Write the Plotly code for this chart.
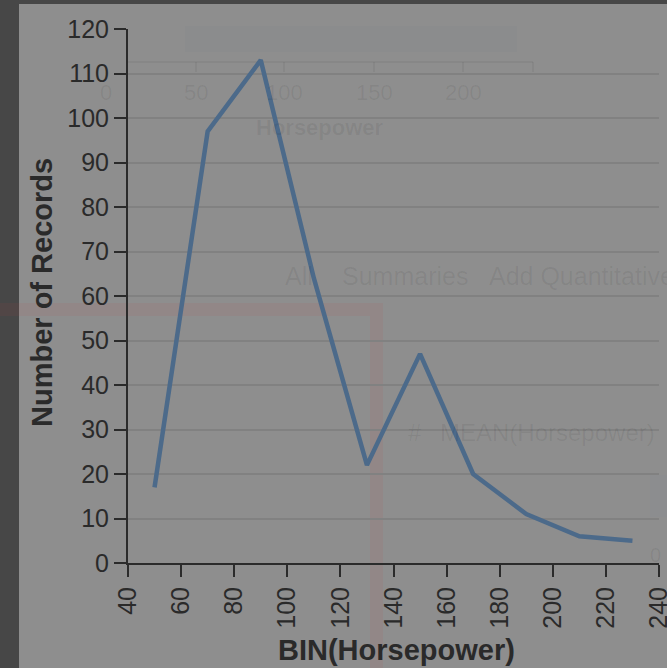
import plotly.graph_objects as go

# Data
bin_starts = [50, 70, 90, 110, 130, 150, 170, 190, 210, 230]
record_counts = [17, 97, 113, 64, 22, 47, 20, 11, 6, 5]
y_ticks = [0, 10, 20, 30, 40, 50, 60, 70, 80, 90, 100, 110, 120]
x_ticks = [40, 60, 80, 100, 120, 140, 160, 180, 200, 220, 240]
x_title = "BIN(Horsepower)"
y_title = "Number of Records"

W, H = 667, 668
L, R, T, B = 128, 8, 29, 105
PW, PH = W - L - R, H - T - B

def px(x):
    return (x - L) / PW

def py(y):
    return (H - B - y) / PH

BG = "#8e8e8e"
FAINT = "rgba(0,0,0,0.065)"
FONT = "Liberation Sans, Arial, Helvetica, sans-serif"

fig = go.Figure()
fig.add_trace(go.Scatter(
    x=bin_starts, y=record_counts, mode="lines",
    line=dict(color="#4c6a8a", width=4.5),
    hoverinfo="skip", showlegend=False,
))

shapes = [
    # dark frame
    dict(type="rect", xref="paper", yref="paper", x0=px(-5), x1=px(19), y0=py(H + 5), y1=py(-5),
         fillcolor="#474747", line_width=0, layer="below"),
    dict(type="rect", xref="paper", yref="paper", x0=px(-5), x1=px(W + 5), y0=py(4), y1=py(-5),
         fillcolor="#474747", line_width=0, layer="below"),
    # faint red L-shaped frame
    dict(type="rect", xref="paper", yref="paper", x0=px(-5), x1=px(383), y0=py(316), y1=py(303),
         fillcolor="rgba(190,70,70,0.09)", line_width=0, layer="below"),
    dict(type="rect", xref="paper", yref="paper", x0=px(370), x1=px(383), y0=py(H + 5), y1=py(316),
         fillcolor="rgba(190,70,70,0.09)", line_width=0, layer="below"),
    # faint tick strip & axis from background screenshot
    dict(type="rect", xref="paper", yref="paper", x0=px(185), x1=px(517), y0=py(52), y1=py(26),
         fillcolor="rgba(60,80,110,0.025)", line_width=0, layer="below"),
    dict(type="line", xref="paper", yref="paper", x0=px(127), x1=px(533), y0=py(62), y1=py(62),
         line=dict(color=FAINT, width=1.5), layer="below"),
    # faint box on the right
    dict(type="rect", xref="paper", yref="paper", x0=px(650), x1=px(W + 5), y0=py(517), y1=py(475),
         fillcolor="rgba(120,140,170,0.05)", line_width=0, layer="below"),
]
for xv in [196, 284, 374, 463, 533]:
    shapes.append(dict(type="line", xref="paper", yref="paper", x0=px(xv), x1=px(xv),
                       y0=py(62), y1=py(72), line=dict(color=FAINT, width=1.5), layer="below"))

annotations = [
    dict(text=y_title, xref="paper", yref="paper", x=px(42), y=py(293), textangle=-90,
         showarrow=False, font=dict(family=FONT, size=29, color="#2a2a2a", weight="bold"),
         xanchor="center", yanchor="middle"),
    dict(text=x_title, xref="paper", yref="paper", x=px(396), y=py(650),
         showarrow=False, font=dict(family=FONT, size=29, color="#2a2a2a", weight="bold"),
         xanchor="center", yanchor="middle"),
]
faint_texts = [
    ("0", 106, 93, 22, "normal", "center"), ("50", 196, 93, 22, "normal", "center"),
    ("100", 284, 93, 22, "normal", "center"), ("150", 374, 93, 22, "normal", "center"),
    ("200", 463, 93, 22, "normal", "center"),
    ("Horsepower", 320, 127, 22, "bold", "center"),
    ("All", 283, 276, 25, "normal", "left"),
    ("Summaries", 340, 276, 25, "normal", "left"),
    ("Add Quantitative", 487, 276, 25, "normal", "left"),
    ("#", 406, 432, 24, "normal", "left"),
    ("MEAN(Horsepower)", 438, 432, 24, "normal", "left"),
    ("0", 655, 555, 20, "normal", "center"),
]
for t, xx, yy, s, w, anchor in faint_texts:
    annotations.append(dict(text=t, xref="paper", yref="paper", x=px(xx), y=py(yy),
                            showarrow=False, xanchor=anchor, yanchor="middle",
                            font=dict(family=FONT, size=s, color=FAINT, weight=w)))

fig.update_layout(
    width=W, height=H,
    margin=dict(l=L, r=R, t=T, b=B, autoexpand=False),
    paper_bgcolor=BG, plot_bgcolor="rgba(0,0,0,0)",
    shapes=shapes, annotations=annotations,
    xaxis=dict(range=[40, 240], tickvals=x_ticks, tickangle=-90,
               showgrid=False, zeroline=False, ticklabeloverflow="allow", automargin=False,
               showline=True, linecolor="#2b2b2b", linewidth=2,
               ticks="outside", ticklen=12, tickwidth=2, tickcolor="#2b2b2b",
               tickfont=dict(family=FONT, size=25, color="#2a2a2a")),
    yaxis=dict(range=[0, 120], tickvals=y_ticks, automargin=False,
               showgrid=True, gridcolor="#818181", gridwidth=2, zeroline=False,
               showline=True, linecolor="#2b2b2b", linewidth=2,
               ticks="outside", ticklen=12, tickwidth=2, tickcolor="#2b2b2b",
               tickfont=dict(family=FONT, size=25, color="#2a2a2a")),
)

fig.write_html("out.html", config={"displayModeBar": False},
               post_script="document.body.style.margin='0';document.body.style.background='#474747';")
